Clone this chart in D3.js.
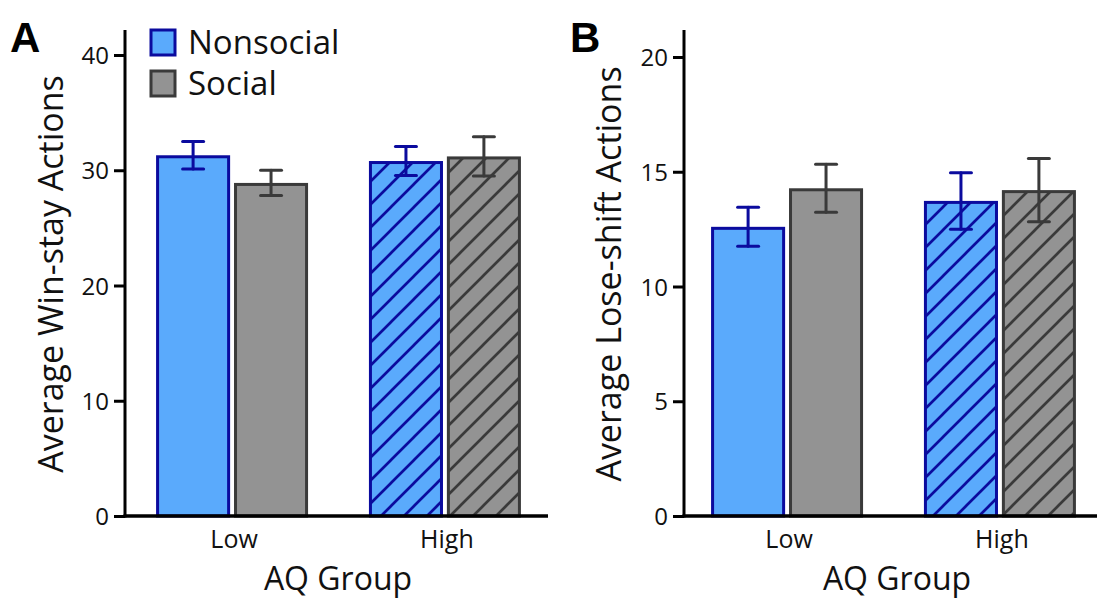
<!DOCTYPE html>
<html lang="en">
<head>
  <meta charset="UTF-8">
  <title>Win-stay / Lose-shift by AQ group</title>
  <script src="https://d3js.org/d3.v7.min.js"></script>
  <style>
    * {
      margin: 0;
      padding: 0;
      box-sizing: border-box;
    }
    body {
      background: #fff;
      font-family: 'Open Sans', sans-serif;
    }
    .tick text {
      font-size: 24px;
      fill: #111;
    }
    .group_label {
      font-size: 25px;
      fill: #111;
    }
    .axis_title {
      font-size: 32px;
      fill: #111;
    }
    .y_title {
      font-size: 34px;
      fill: #111;
    }
    .legend_text {
      font-size: 33px;
      fill: #111;
    }
    .panel_letter {
      font-family: 'Liberation Sans', Arial, sans-serif;
      font-weight: bold;
      font-size: 42px;
      fill: #000;
    }
  </style>
</head>
<body>
  <svg id="chart" width="1097" height="598"></svg>
  <script>
    // data
    var groups = ["Low", "High"];
    var conditions = ["Nonsocial", "Social"];

    var winStayNonsocial = [31.3, 30.8];
    var winStayNonsocialErr = [1.2, 1.25];
    var winStaySocial = [28.9, 31.2];
    var winStaySocialErr = [1.1, 1.7];
    var winStayTicks = [0, 10, 20, 30, 40];

    var loseShiftNonsocial = [12.6, 13.73];
    var loseShiftNonsocialErr = [0.85, 1.23];
    var loseShiftSocial = [14.28, 14.2];
    var loseShiftSocialErr = [1.05, 1.38];
    var loseShiftTicks = [0, 5, 10, 15, 20];

    // colours
    var fillColor = {Nonsocial: "#5aaafc", Social: "#939393"};
    var lineColor = {Nonsocial: "#0b0b9e", Social: "#3a3a3a"};

    var svg = d3.select("#chart");
    var defs = svg.append("defs");

    // hatch patterns for the High group
    var hs = 23;
    conditions.forEach(function(c) {
      var p = defs.append("pattern")
        .attr("id", "hatch_" + c)
        .attr("patternUnits", "userSpaceOnUse")
        .attr("width", hs)
        .attr("height", hs);
      p.append("rect")
        .attr("width", hs).attr("height", hs)
        .attr("fill", fillColor[c]);
      p.append("path")
        .attr("d", "M0," + hs + " L" + hs + ",0 M-6,6 L6,-6 M" + (hs - 6) + "," + (hs + 6) + " L" + (hs + 6) + "," + (hs - 6))
        .attr("stroke", lineColor[c])
        .attr("stroke-width", 2.7);
    });

    function drawPanel(opt) {
      var g = svg.append("g");
      var base = 516;

      var y = d3.scaleLinear()
        .domain([0, opt.ticks[opt.ticks.length - 1]])
        .range([base, opt.yTopTick]);

      var x = d3.scaleBand()
        .domain(groups)
        .range([opt.xStart, opt.xStart + 427])
        .paddingInner(0.286)
        .paddingOuter(0.146);

      var xSub = d3.scaleBand()
        .domain(conditions)
        .range([0, x.bandwidth()])
        .paddingInner(0.05);

      var rows = [];
      groups.forEach(function(grp, i) {
        conditions.forEach(function(c) {
          rows.push({
            group: grp,
            cond: c,
            value: opt.values[c][i],
            err: opt.errors[c][i],
            hatched: grp === "High"
          });
        });
      });

      var sw = 3;
      // bars
      g.selectAll("rect.bar")
        .data(rows)
        .enter().append("rect")
        .attr("class", "bar")
        .attr("x", function(d) { return x(d.group) + xSub(d.cond) + sw / 2; })
        .attr("width", xSub.bandwidth() - sw)
        .attr("y", function(d) { return y(d.value) + sw / 2; })
        .attr("height", function(d) { return base - y(d.value) - sw / 2; })
        .attr("fill", function(d) { return d.hatched ? "url(#hatch_" + d.cond + ")" : fillColor[d.cond]; })
        .attr("stroke", function(d) { return lineColor[d.cond]; })
        .attr("stroke-width", sw);

      // error bars
      var eb = g.selectAll("g.err")
        .data(rows)
        .enter().append("g")
        .attr("class", "err")
        .attr("stroke", function(d) { return lineColor[d.cond]; })
        .attr("stroke-width", 3)
        .attr("stroke-linecap", "round");
      function cx(d) { return x(d.group) + xSub(d.cond) + xSub.bandwidth() / 2; }
      eb.append("line")
        .attr("x1", cx).attr("x2", cx)
        .attr("y1", function(d) { return y(d.value - d.err); })
        .attr("y2", function(d) { return y(d.value + d.err); });
      eb.append("line")
        .attr("x1", function(d) { return cx(d) - 10.5; })
        .attr("x2", function(d) { return cx(d) + 10.5; })
        .attr("y1", function(d) { return y(d.value + d.err); })
        .attr("y2", function(d) { return y(d.value + d.err); });
      eb.append("line")
        .attr("x1", function(d) { return cx(d) - 10.5; })
        .attr("x2", function(d) { return cx(d) + 10.5; })
        .attr("y1", function(d) { return y(d.value - d.err); })
        .attr("y2", function(d) { return y(d.value - d.err); });

      // y axis
      var yAxis = d3.axisLeft(y)
        .tickValues(opt.ticks)
        .tickSize(11)
        .tickSizeOuter(0)
        .tickPadding(5);
      var ya = g.append("g")
        .attr("transform", "translate(" + opt.axisX + ",0)")
        .call(yAxis);
      ya.select(".domain").remove();
      ya.selectAll(".tick line").attr("stroke", "#000").attr("stroke-width", 3);
      ya.selectAll(".tick text").attr("font-family", "'Open Sans', sans-serif").attr("font-size", 24).attr("dy", "0.36em");
      ya.append("line")
        .attr("x1", 0).attr("x2", 0)
        .attr("y1", base + 1.5).attr("y2", 30)
        .attr("stroke", "#000").attr("stroke-width", 3);

      // x axis line
      g.append("line")
        .attr("x1", opt.axisX - 1.5).attr("x2", opt.xAxisEnd)
        .attr("y1", base).attr("y2", base)
        .attr("stroke", "#000").attr("stroke-width", 3.5);

      g.selectAll("text.group_label")
        .data(groups)
        .enter().append("text")
        .attr("class", "group_label")
        .attr("x", function(d) { return x(d) + x.bandwidth() / 2 + 2; })
        .attr("y", 548)
        .attr("text-anchor", "middle")
        .text(function(d) { return d; });

      g.append("text")
        .attr("class", "axis_title")
        .attr("x", opt.axisX + 213)
        .attr("y", 590)
        .attr("text-anchor", "middle")
        .text("AQ Group");

      g.append("text")
        .attr("class", "y_title")
        .attr("transform", "translate(" + opt.titleX + ",274) rotate(-90)")
        .attr("text-anchor", "middle")
        .text(opt.yTitle);

      g.append("text")
        .attr("class", "panel_letter")
        .attr("x", opt.letterX)
        .attr("y", 52)
        .text(opt.letter);
    }

    drawPanel({
      letter: "A",
      letterX: 10,
      axisX: 125,
      xStart: 125,
      xAxisEnd: 548,
      titleX: 63,
      yTopTick: 55,
      ticks: winStayTicks,
      yTitle: "Average Win-stay Actions",
      values: {Nonsocial: winStayNonsocial, Social: winStaySocial},
      errors: {Nonsocial: winStayNonsocialErr, Social: winStaySocialErr}
    });

    drawPanel({
      letter: "B",
      letterX: 570,
      axisX: 684,
      xStart: 680,
      xAxisEnd: 1097,
      titleX: 621,
      yTopTick: 57,
      ticks: loseShiftTicks,
      yTitle: "Average Lose-shift Actions",
      values: {Nonsocial: loseShiftNonsocial, Social: loseShiftSocial},
      errors: {Nonsocial: loseShiftNonsocialErr, Social: loseShiftSocialErr}
    });

    // legend
    var legend = svg.append("g").attr("transform", "translate(151,30)");
    var li = legend.selectAll("g")
      .data(conditions)
      .enter().append("g")
      .attr("transform", function(d, i) { return "translate(0," + (i * 41) + ")"; });
    li.append("rect")
      .attr("x", 0).attr("y", 0)
      .attr("width", 24).attr("height", 25)
      .attr("fill", function(d) { return fillColor[d]; })
      .attr("stroke", function(d) { return lineColor[d]; })
      .attr("stroke-width", 3);
    li.append("text")
      .attr("class", "legend_text")
      .attr("x", 37)
      .attr("y", 24)
      .text(function(d) { return d; });
  </script>
</body>
</html>
